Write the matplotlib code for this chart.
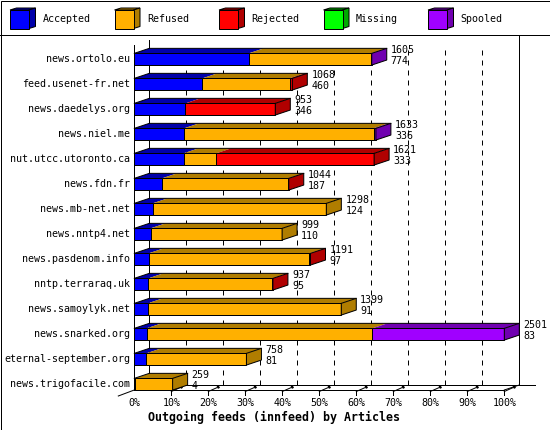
import matplotlib
matplotlib.use('Agg')
import matplotlib.pyplot as plt
from matplotlib.patches import Polygon, Rectangle

# innfeed outgoing feeds, articles per peer
hosts = ['news.ortolo.eu', 'feed.usenet-fr.net', 'news.daedelys.org', 'news.niel.me',
         'nut.utcc.utoronto.ca', 'news.fdn.fr', 'news.mb-net.net', 'news.nntp4.net',
         'news.pasdenom.info', 'nntp.terraraq.uk', 'news.samoylyk.net', 'news.snarked.org',
         'eternal-september.org', 'news.trigofacile.com']
offered = [1605, 1068, 953, 1633, 1621, 1044, 1298, 999, 1191, 937, 1399, 2501, 758, 259]
accepted = [774, 460, 346, 336, 333, 187, 124, 110, 97, 95, 91, 83, 81, 4]
refused = [826, 590, 0, 1282, 220, 852, 1174, 889, 1086, 834, 1308, 1526, 677, 255]
rejected = [0, 18, 607, 0, 1068, 5, 0, 0, 8, 8, 0, 0, 0, 0]
missing = [0, 0, 0, 0, 0, 0, 0, 0, 0, 0, 0, 0, 0, 0]
spooled = [5, 0, 0, 15, 0, 0, 0, 0, 0, 0, 0, 892, 0, 0]

series_names = ['Accepted', 'Refused', 'Rejected', 'Missing', 'Spooled']
front_colors = ['#0000ff', '#ffb000', '#ff0000', '#00ff00', '#a000ff']
dark_colors = ['#0000aa', '#b07d00', '#b00000', '#00aa00', '#7000b0']
tick_labels = ['0%', '10%', '20%', '30%', '40%', '50%', '60%', '70%', '80%', '90%', '100%']

W, H = 550, 430
LW = 0.72  # 1 pixel
MONO = 'DejaVu Sans Mono'
FS = 7.2

fig = plt.figure(figsize=(W / 100, H / 100), dpi=100)

# background layer in pixel coords: frame + legend
bg = fig.add_axes([0, 0, 1, 1])
bg.set_xlim(0, W)
bg.set_ylim(H, 0)
bg.axis('off')
bg.add_patch(Rectangle((0.5, 0.5), W - 1, H - 1, fill=False, ec='black', lw=LW))
bg.plot([0, W], [35, 35], color='black', lw=LW)

for k, name in enumerate(series_names):
    lx = 10 + k * 104.5
    bg.add_patch(Polygon([(lx, 10), (lx + 19, 10), (lx + 25.5, 8), (lx + 6.5, 8)],
                         fc=dark_colors[k], ec='black', lw=LW))
    bg.add_patch(Polygon([(lx + 19, 10), (lx + 25.5, 8), (lx + 25.5, 26.5), (lx + 19, 28.5)],
                         fc=dark_colors[k], ec='black', lw=LW))
    bg.add_patch(Rectangle((lx, 10), 19, 18.5, fc=front_colors[k], ec='black', lw=LW))
    bg.text(lx + 32.5, 19.5, name, va='center', ha='left', family=MONO, fontsize=FS)

bg.text(274, 417, 'Outgoing feeds (innfeed) by Articles', ha='center', va='center',
        family=MONO, fontsize=8.4, fontweight='bold')

# data axes on the front plane
x0_px, x1_px = 134.3, 504.3
y0_px, y1_px = 34.2, 390.0
pitch, first = 25.0, 59.2
ax = fig.add_axes([x0_px / W, 1 - y1_px / H, (x1_px - x0_px) / W, (y1_px - y0_px) / H])
ax.axis('off')
xmax = max(offered)
ax.set_xlim(0, xmax)
ax.set_ylim((y1_px - first) / pitch, (y0_px - first) / pitch)

px_x = xmax / (x1_px - x0_px)
px_y = 1 / pitch
ddx, ddy = 15 * px_x, 5 * px_y
floor = (y1_px - first) / pitch
grid_top = (40 - first) / pitch
bh = 11.7 * px_y

# back wall / floor
for k in range(1, 10):
    gx = k * xmax / 10 + ddx
    ax.plot([gx, gx], [grid_top + 10 * px_y, floor - ddy], color='black', lw=LW,
            dashes=(5, 5), clip_on=False, zorder=1)
ax.plot([ddx, ddx], [grid_top, floor - ddy], color='black', lw=LW, clip_on=False, zorder=1)
ax.plot([xmax + ddx, xmax + ddx], [(35 - first) / pitch, floor - ddy], color='black',
        lw=LW, clip_on=False, zorder=1)
ax.plot([ddx, xmax + ddx + 16 * px_x], [floor - ddy, floor - ddy], color='black',
        lw=LW, clip_on=False, zorder=1)
ax.plot([0, xmax], [floor, floor], color='black', lw=LW, clip_on=False, zorder=1)
ax.plot([0, 0], [(45 - first) / pitch, floor], color='black', lw=LW, clip_on=False, zorder=1)
ax.plot([-16 * px_x, 0], [floor + 6 * px_y, floor], color='black', lw=LW, clip_on=False, zorder=1)
ax.plot([xmax, xmax + ddx], [floor, floor - ddy], color='black', lw=LW, clip_on=False, zorder=1)

for k, lab in enumerate(tick_labels):
    tx = k * xmax / 10
    if k > 0:
        ax.plot([tx, tx], [floor, floor + 5 * px_y], color='black', lw=LW, clip_on=False, zorder=1)
        ax.plot([tx, tx + 9 * px_x], [floor + 1.5 * px_y, floor - 2.5 * px_y], color='black',
                lw=LW, clip_on=False, zorder=1)
        ax.plot([tx + 9 * px_x, tx + 11 * px_x], [floor - 2.5 * px_y, floor - 3.5 * px_y],
                color='black', lw=2.2, clip_on=False, zorder=1, solid_capstyle='butt')
    ax.annotate(lab, (tx, floor), xytext=(0, -12.7), textcoords='offset pixels',
                ha='center', va='center', family=MONO, fontsize=FS)

# bars
segs = [accepted, refused, rejected, missing, spooled]
for i, host in enumerate(hosts):
    top, bot = i - bh / 2, i + bh / 2
    left, last = 0, 0
    for k in range(len(segs)):
        v = segs[k][i]
        if v <= 0:
            continue
        right = left + v
        ax.add_patch(Polygon([(left, top), (right, top), (right + ddx, top - ddy),
                              (left + ddx, top - ddy)], closed=True, fc=dark_colors[k],
                             ec='none', clip_on=False, zorder=3))
        ax.add_patch(Rectangle((left, top), v, bh, fc=front_colors[k], ec='black', lw=LW,
                               clip_on=False, zorder=3))
        left, last = right, k
    ax.plot([0, ddx, left + ddx], [top, top - ddy, top - ddy], color='black', lw=LW,
            clip_on=False, zorder=3)
    ax.add_patch(Polygon([(left, top), (left + ddx, top - ddy), (left + ddx, bot - ddy),
                          (left, bot)], closed=True, fc=dark_colors[last], ec='black', lw=LW,
                         clip_on=False, zorder=4))

    ax.annotate(host, (0, i), xytext=(-4.3, 0), textcoords='offset pixels',
                ha='right', va='center', family=MONO, fontsize=FS)
    ax.annotate(str(offered[i]), (left, i), xytext=(19, 9.2), textcoords='offset pixels',
                ha='left', va='center', family=MONO, fontsize=FS, zorder=5)
    ax.annotate(str(accepted[i]), (left, i), xytext=(19, -1.5), textcoords='offset pixels',
                ha='left', va='center', family=MONO, fontsize=FS, zorder=5)

fig.savefig('out.png', dpi=100)
